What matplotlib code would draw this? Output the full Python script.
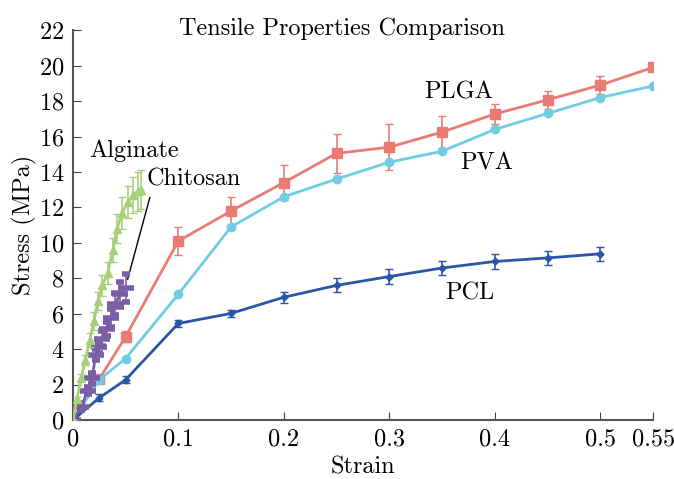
import numpy as np
import matplotlib
matplotlib.use('Agg')
import matplotlib.pyplot as plt

plt.rcParams['font.family'] = 'cmr10'
plt.rcParams['mathtext.fontset'] = 'cm'
plt.rcParams['axes.formatter.use_mathtext'] = True

# data
pcl_x = [0, 0.025, 0.05, 0.1, 0.15, 0.2, 0.25, 0.3, 0.35, 0.4, 0.45, 0.5]
pcl_y = [0, 1.25, 2.27, 5.45, 6.02, 6.93, 7.6, 8.1, 8.58, 8.95, 9.15, 9.38]
pcl_err = [0, 0.2, 0.2, 0.2, 0.2, 0.3, 0.4, 0.4, 0.4, 0.4, 0.4, 0.4]

pva_x = [0, 0.025, 0.05, 0.1, 0.15, 0.2, 0.25, 0.3, 0.35, 0.4, 0.45, 0.5, 0.55]
pva_y = [0, 2.27, 3.47, 7.1, 10.9, 12.6, 13.6, 14.55, 15.17, 16.4, 17.3, 18.2, 18.85]

plga_x = [0, 0.025, 0.05, 0.1, 0.15, 0.2, 0.25, 0.3, 0.35, 0.4, 0.45, 0.5, 0.55]
plga_y = [0, 2.3, 4.7, 10.1, 11.8, 13.4, 15.05, 15.4, 16.25, 17.27, 18.07, 18.9, 19.9]
plga_err = [0, 0.1, 0.3, 0.8, 0.8, 1.0, 1.1, 1.3, 0.9, 0.55, 0.5, 0.5, 0]

alg_x = [0, 0.004, 0.008, 0.012, 0.016, 0.020, 0.024, 0.028, 0.033, 0.038, 0.042, 0.047, 0.052, 0.057, 0.062, 0.065]
alg_y = [0, 1.2, 2.4, 3.4, 4.5, 5.6, 6.7, 7.6, 8.3, 9.6, 10.8, 11.7, 12.3, 12.7, 12.9, 13.0]
alg_err = [0, 0.1, 0.2, 0.3, 0.4, 0.5, 0.5, 0.6, 0.6, 0.7, 0.8, 0.9, 0.9, 1.0, 1.1, 1.1]

chi_x = [0, 0.008, 0.014, 0.018, 0.022, 0.025, 0.028, 0.032, 0.036, 0.040, 0.045, 0.050]
chi_y = [0, 0.75, 1.65, 2.35, 3.7, 4.1, 4.6, 5.15, 5.75, 6.55, 7.1, 7.45]
chi_err = [0, 0.2, 0.2, 0.3, 0.3, 0.3, 0.4, 0.4, 0.5, 0.6, 0.7, 0.8]

c_pcl = '#2b56a8'
c_pva = '#6fcde3'
c_plga = '#e97b74'
c_alg = '#a8d07a'
c_chi = '#7a5fa6'

fig = plt.figure(figsize=(6.74, 4.79), dpi=100)
ax = fig.add_axes([0.108, 0.123, 0.861, 0.814])

ax.plot(pva_x, pva_y, color=c_pva, lw=2, marker='o', ms=6, zorder=3)
ax.errorbar(plga_x, plga_y, yerr=plga_err, color=c_plga, lw=2, marker='s', ms=7,
            capsize=3, elinewidth=1.2, zorder=2)
ax.errorbar(pcl_x, pcl_y, yerr=pcl_err, color=c_pcl, lw=2, marker='D', ms=3.5,
            capsize=3, elinewidth=1.2, zorder=4)
ax.errorbar(chi_x, chi_y, yerr=chi_err, color=c_chi, lw=2, marker='_', ms=12, mew=4,
            capsize=3, elinewidth=1.2, zorder=5)
ax.errorbar(alg_x, alg_y, yerr=alg_err, color=c_alg, lw=2, marker='^', ms=6,
            capsize=3, elinewidth=1.2, zorder=6)

fs = 17.5
ax.text(0.0155, 15.2, 'Alginate', fontsize=fs, va='center')
ax.text(0.07, 13.6, 'Chitosan', fontsize=fs, va='center')
ax.plot([0.073, 0.052], [12.55, 7.95], color='black', lw=1)
ax.text(0.333, 18.5, 'PLGA', fontsize=fs, va='center')
ax.text(0.367, 14.5, 'PVA', fontsize=fs, va='center')
ax.text(0.353, 7.15, 'PCL', fontsize=fs, va='center')

ax.set_xlim(0, 0.55)
ax.set_ylim(0, 22)
ax.set_xticks([0, 0.1, 0.2, 0.3, 0.4, 0.5, 0.55])
ax.set_xticklabels(['0', '0.1', '0.2', '0.3', '0.4', '0.5', '0.55'])
ax.set_yticks(np.arange(0, 23, 2))
ax.tick_params(direction='in', labelsize=fs, length=6, color='#444444', pad=6)
for s in ['top', 'right']:
    ax.spines[s].set_visible(False)
for s in ['left', 'bottom']:
    ax.spines[s].set_color('#555555')
    ax.spines[s].set_linewidth(1.5)
ax.set_xlabel('Strain', fontsize=fs, labelpad=4.5)
ax.set_ylabel('Stress (MPa)', fontsize=fs, labelpad=1)

fig.text(0.507, 0.94, 'Tensile Properties Comparison', fontsize=fs, ha='center', va='center')

fig.savefig('out.png', dpi=100)
